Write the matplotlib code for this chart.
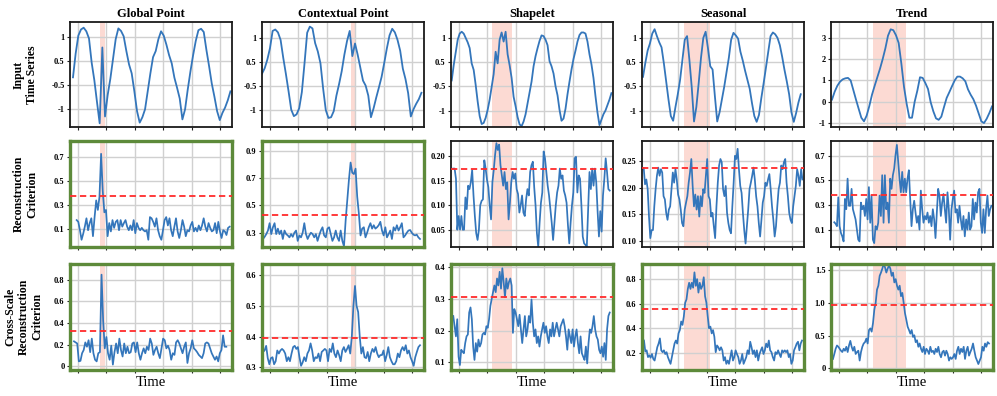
import numpy as np
import matplotlib
matplotlib.use("Agg")
import matplotlib.pyplot as plt

plt.rcParams['font.family'] = ['Liberation Serif', 'DejaVu Serif']

titles = ["Global Point", "Contextual Point", "Shapelet", "Seasonal", "Trend"]
row_labels = ["Input\nTime Series", "Reconstruction\nCriterion", "Cross-Scale\nReconstruction\nCriterion"]

# ---------------- input time series ----------------
in_global = [-0.11,0.55,1.05,1.22,1.27,1.17,0.97,0.30,-0.19,-0.80,-1.39,0.72,-1.20,-0.60,-0.15,0.40,0.95,1.25,1.18,1.03,
             0.62,0.25,0.0,-0.5,-1.05,-1.37,-1.22,-1.0,-0.5,0.0,0.45,0.62,0.95,1.17,1.05,0.8,0.51,0.28,-0.12,-0.4,
             -0.7,-1.28,-1.0,-0.45,0.05,0.5,0.9,1.2,1.24,1.15,0.65,0.2,-0.28,-0.65,-1.05,-1.3,-1.1,-0.95,-0.75,-0.5]
in_context = [0.01,0.16,0.40,0.72,1.20,1.24,1.16,0.95,0.45,0.0,-0.48,-0.99,-1.17,-1.12,-0.95,-0.5,0.3,1.15,1.32,1.27,
              0.86,0.63,0.3,-0.4,-1.0,-1.22,-1.2,-1.03,-0.6,-0.28,0.08,0.54,0.92,1.2,0.5,0.85,0.54,0.18,-0.18,-0.32,
              -0.6,-1.2,-0.95,-0.65,-0.37,-0.08,0.31,0.72,1.08,1.26,1.16,0.95,0.65,0.15,-0.14,-0.53,-1.18,-0.98,-0.83,-0.7,-0.52]
in_shapelet = [-0.17,0.25,0.6,0.95,1.12,1.17,1.12,1.0,0.88,0.72,0.3,0.12,-0.29,-0.75,-1.15,-1.37,-1.34,-1.2,-0.98,-0.7,
               -0.35,0.0,0.62,0.3,0.95,1.15,0.9,1.17,0.55,0.25,-0.1,-0.62,-0.88,-1.18,-1.38,-1.43,-1.3,-1.1,-0.8,-0.5,
               -0.2,0.22,0.5,0.72,0.92,1.07,1.05,0.95,0.8,0.36,0.22,0.02,-0.33,-0.58,-0.98,-1.28,-1.22,-0.95,-0.55,-0.2,
               0.13,0.42,0.65,0.9,1.08,1.15,1.15,1.12,0.9,0.55,0.27,-0.1,-0.6,-1.05,-1.4,-1.25,-1.1,-1.0,-0.85,-0.7,-0.52]
in_seasonal = [-0.07,0.31,0.65,0.85,1.12,1.24,1.05,0.88,0.74,0.3,-0.2,-0.7,-1.15,-1.28,-0.9,-0.55,-0.15,0.4,0.95,1.05,
               0.4,-0.35,-1.3,-0.9,-0.25,0.45,1.0,1.17,0.72,0.22,0.13,-0.61,-1.3,-1.05,-0.7,-0.35,0.05,0.45,0.95,1.14,
               1.07,0.98,0.62,0.38,0.1,-0.15,-0.4,-0.8,-1.15,-1.31,-1.12,-0.66,-0.25,0.18,0.62,1.05,1.15,1.1,1.0,0.8,
               0.48,0.12,-0.2,-0.55,-1.05,-1.31,-1.07,-0.78,-0.55]
in_trend = [0.10,0.47,0.75,0.94,1.05,1.1,1.12,1.0,0.55,0.1,-0.33,-0.75,-0.92,-0.65,-0.2,0.33,0.75,1.15,1.55,2.0,
            2.5,3.1,3.4,3.36,3.12,2.76,1.8,0.7,-0.1,-0.75,-0.75,0.0,0.52,1.15,1.12,0.88,0.6,-0.02,-0.45,-0.78,
            -0.85,-0.7,-0.25,0.18,0.45,0.73,1.0,1.18,1.18,1.1,0.96,0.58,0.33,0.12,-0.18,-0.55,-0.92,-1.0,-0.8,-0.53,-0.22]

# ---------------- reconstruction criterion ----------------
rc_global = [0.175,0.16,0.09,0.01,0.06,0.12,0.19,0.09,0.15,0.19,0.04,0.20,0.34,0.26,0.37,0.73,0.42,0.24,0.26,0.04,
             0.15,0.08,0.175,0.11,0.16,0.175,0.09,0.175,0.12,0.15,0.175,0.12,0.09,0.13,0.09,0.175,0.065,0.15,0.11,0.09,
             0.11,0.09,0.08,0.09,0.01,0.20,0.19,0.16,0.12,0.19,0.09,0.04,0.01,0.09,0.175,0.20,0.13,0.19,0.09,0.04,
             0.12,0.19,0.08,0.025,0.09,0.175,0.12,0.04,0.09,0.08,0.13,0.16,0.08,0.11,0.08,0.13,0.09,0.13,0.19,0.12,
             0.08,0.15,0.11,0.08,0.09,0.15,0.065,0.16,0.08,0.025,0.09,0.08,0.05,0.11,0.12]
rc_context = [0.254,0.27,0.29,0.316,0.37,0.29,0.34,0.37,0.29,0.33,0.29,0.316,0.254,0.316,0.29,0.28,0.266,0.29,0.27,0.30,
              0.316,0.24,0.28,0.266,0.30,0.37,0.29,0.254,0.28,0.30,0.29,0.266,0.29,0.24,0.28,0.316,0.34,0.28,0.266,0.33,
              0.34,0.29,0.24,0.266,0.316,0.266,0.24,0.316,0.24,0.20,0.39,0.54,0.69,0.815,0.74,0.73,0.77,0.565,0.44,0.28,
              0.33,0.34,0.266,0.30,0.34,0.37,0.33,0.355,0.33,0.34,0.355,0.38,0.316,0.28,0.34,0.266,0.29,0.316,0.254,0.34,
              0.316,0.355,0.316,0.34,0.37,0.266,0.28,0.30,0.316,0.32,0.30,0.286,0.28,0.286,0.266,0.254]
rc_shapelet = [0.175,0.175,0.154,0.05,0.078,0.05,0.078,0.05,0.05,0.116,0.092,0.14,0.133,0.147,0.172,0.12,0.078,0.043,0.029,0.05,
               0.10,0.109,0.112,0.192,0.175,0.152,0.137,0.10,0.071,0.147,0.172,0.203,0.227,0.213,0.224,0.182,0.161,0.14,0.168,0.133,
               0.147,0.071,0.105,0.147,0.168,0.154,0.165,0.133,0.123,0.085,0.10,0.12,0.085,0.078,0.112,0.133,0.12,0.168,0.182,0.189,
               0.137,0.10,0.043,0.015,0.064,0.105,0.126,0.21,0.196,0.168,0.14,0.12,0.092,0.064,0.029,0.064,0.10,0.126,0.14,0.175,
               0.154,0.161,0.13,0.12,0.105,0.06,0.022,0.064,0.10,0.126,0.196,0.199,0.126,0.161,0.154,0.10,0.036,0.022,0.019,0.015,
               0.092,0.168,0.133,0.175,0.14,0.175,0.147,0.088,0.036,0.088,0.046,0.12,0.154,0.196,0.168,0.133,0.13]
rc_seasonal = [0.236,0.206,0.215,0.197,0.146,0.106,0.121,0.121,0.165,0.197,0.222,0.237,0.222,0.234,0.228,0.184,0.178,0.153,0.14,0.159,
               0.165,0.197,0.228,0.209,0.234,0.215,0.187,0.178,0.159,0.134,0.128,0.159,0.172,0.184,0.209,0.228,0.253,0.203,0.165,0.187,
               0.159,0.184,0.146,0.184,0.165,0.197,0.19,0.222,0.253,0.184,0.178,0.146,0.153,0.128,0.106,0.165,0.209,0.241,0.253,0.247,
               0.197,0.184,0.203,0.153,0.134,0.121,0.115,0.165,0.209,0.259,0.253,0.272,0.234,0.203,0.19,0.153,0.121,0.096,0.128,0.159,
               0.197,0.209,0.222,0.237,0.215,0.184,0.165,0.134,0.109,0.14,0.172,0.184,0.209,0.203,0.215,0.225,0.197,0.165,0.14,0.109,
               0.128,0.165,0.197,0.209,0.241,0.234,0.247,0.253,0.209,0.184,0.153,0.14,0.134,0.165,0.184,0.203,0.234,0.222,0.203,0.234,0.215]
rc_trend = [0.16,0.148,0.128,0.363,0.128,0.073,0.045,0.004,0.35,0.266,0.515,0.294,0.294,0.432,0.266,0.225,0.183,0.10,0.018,0.004,
            0.32,0.266,0.294,0.211,0.35,0.183,0.446,0.156,0.377,0.018,-0.01,0.128,0.10,0.156,0.377,0.211,0.543,0.156,0.543,0.266,
            0.32,0.156,0.515,0.432,0.543,0.598,0.708,0.79,0.653,0.515,0.404,0.57,0.404,0.515,0.404,0.515,0.584,0.35,0.128,0.266,
            0.335,0.239,0.156,0.211,0.10,0.418,0.266,0.156,0.211,0.183,0.239,0.156,0.211,0.128,0.266,0.183,0.031,0.239,0.432,0.377,
            0.211,0.32,0.39,0.266,0.156,0.404,0.266,0.018,0.266,0.35,0.418,0.239,0.266,0.156,0.294,0.183,0.10,0.211,0.045,0.183,
            0.10,0.239,0.10,0.128,0.35,0.183,0.32,0.239,0.404,0.432,0.156,0.073,0.266,0.073,0.266,0.377,0.211,0.266,0.294]

# ---------------- cross-scale reconstruction criterion ----------------
cs_global = [0.23,0.22,0.21,0.045,0.05,0.12,0.15,0.22,0.18,0.24,0.13,0.255,0.12,0.06,0.045,0.12,0.13,0.845,0.42,0.165,
             0.27,0.12,0.06,0.19,0.015,0.13,0.21,0.12,0.255,0.15,0.09,0.21,0.12,0.18,0.12,0.13,0.21,0.22,0.13,0.22,
             0.12,0.06,0.12,0.165,0.12,0.18,0.15,0.255,0.21,0.105,0.15,0.18,0.12,0.075,0.165,0.255,0.24,0.165,0.19,0.15,
             0.06,0.12,0.105,0.22,0.24,0.21,0.165,0.12,0.18,0.22,0.03,0.12,0.165,0.24,0.165,0.15,0.13,0.105,0.09,0.075,
             0.12,0.21,0.22,0.21,0.165,0.12,0.09,0.06,0.09,0.045,0.12,0.15,0.285,0.18,0.18]
cs_context = [0.35,0.355,0.37,0.33,0.31,0.33,0.333,0.31,0.32,0.355,0.345,0.355,0.36,0.355,0.345,0.32,0.333,0.32,0.345,0.366,
              0.37,0.36,0.366,0.333,0.305,0.316,0.333,0.32,0.345,0.355,0.378,0.355,0.32,0.333,0.33,0.345,0.32,0.35,0.355,0.36,
              0.355,0.32,0.36,0.35,0.378,0.345,0.333,0.355,0.34,0.32,0.355,0.366,0.35,0.36,0.372,0.345,0.40,0.50,0.565,0.50,
              0.48,0.40,0.345,0.366,0.333,0.33,0.35,0.32,0.345,0.36,0.35,0.366,0.345,0.333,0.34,0.34,0.355,0.32,0.34,0.366,
              0.333,0.32,0.31,0.31,0.32,0.345,0.333,0.355,0.366,0.355,0.372,0.345,0.355,0.333,0.32,0.305,0.333,0.35,0.366,0.372]
cs_shapelet = [0.246,0.214,0.182,0.236,0.118,0.092,0.14,0.134,0.129,0.161,0.182,0.188,0.257,0.273,0.236,0.15,0.108,0.161,0.134,0.172,
               0.15,0.161,0.188,0.193,0.188,0.214,0.209,0.236,0.278,0.30,0.321,0.342,0.321,0.364,0.342,0.385,0.332,0.396,0.353,0.305,
               0.364,0.332,0.353,0.364,0.342,0.193,0.268,0.257,0.236,0.214,0.25,0.204,0.161,0.204,0.246,0.182,0.204,0.246,0.225,0.298,
               0.225,0.182,0.204,0.161,0.182,0.15,0.182,0.204,0.225,0.193,0.214,0.182,0.161,0.204,0.182,0.225,0.182,0.204,0.225,0.204,
               0.182,0.214,0.225,0.236,0.214,0.182,0.14,0.204,0.182,0.161,0.204,0.15,0.182,0.204,0.161,0.129,0.182,0.129,0.118,0.108,
               0.15,0.097,0.161,0.204,0.193,0.214,0.246,0.204,0.182,0.172,0.14,0.129,0.15,0.118,0.161,0.108,0.204,0.246,0.257]
cs_seasonal = [0.30,0.21,0.22,0.165,0.18,0.16,0.19,0.15,0.137,0.19,0.245,0.275,0.317,0.22,0.205,0.22,0.19,0.205,0.165,0.137,
               0.11,0.165,0.22,0.275,0.30,0.275,0.358,0.385,0.455,0.427,0.496,0.607,0.635,0.72,0.77,0.72,0.77,0.73,0.855,0.745,
               0.80,0.69,0.77,0.72,0.745,0.815,0.66,0.607,0.496,0.40,0.413,0.358,0.385,0.33,0.205,0.26,0.245,0.22,0.245,0.22,
               0.137,0.165,0.11,0.137,0.11,0.165,0.22,0.137,0.165,0.22,0.19,0.165,0.11,0.137,0.19,0.11,0.137,0.165,0.22,0.19,
               0.29,0.245,0.19,0.22,0.165,0.22,0.137,0.19,0.22,0.245,0.19,0.22,0.275,0.245,0.30,0.22,0.205,0.165,0.137,0.205,
               0.19,0.22,0.19,0.165,0.22,0.205,0.22,0.205,0.22,0.165,0.19,0.11,0.137,0.22,0.245,0.275,0.29,0.22,0.275,0.30]
cs_trend = [0.145,0.22,0.30,0.35,0.33,0.30,0.27,0.25,0.30,0.27,0.33,0.25,0.35,0.42,0.33,0.27,0.33,0.22,0.25,0.27,
            0.12,0.25,0.33,0.38,0.40,0.455,0.38,0.585,0.61,0.56,0.69,0.895,1.0,1.2,1.26,1.41,1.46,1.52,1.59,1.54,
            1.46,1.52,1.57,1.52,1.41,1.46,1.31,1.36,1.26,1.2,1.26,1.1,1.15,1.0,0.84,0.74,0.635,0.585,0.53,0.585,
            0.48,0.505,0.40,0.43,0.33,0.38,0.30,0.25,0.33,0.22,0.30,0.27,0.22,0.33,0.25,0.27,0.22,0.30,0.25,0.33,
            0.22,0.17,0.25,0.27,0.195,0.27,0.22,0.12,0.17,0.145,0.17,0.22,0.145,0.27,0.33,0.22,0.30,0.25,0.33,0.145,
            0.27,0.33,0.195,0.25,0.30,0.38,0.27,0.17,0.12,0.067,0.12,0.17,0.33,0.27,0.38,0.33,0.40,0.38]

# thresholds (red dashed lines)
rc_thresholds = [0.378, 0.428, 0.174, 0.236, 0.383]
cs_thresholds = [0.329, 0.395, 0.306, 0.553, 0.972]

# anomaly intervals (time units)
anomaly_spans = [(15.6, 19.1), (56.9, 60.4), (23.1, 37.6), (24.0, 42.6), (24.2, 47.6)]

# time range covered by each series (time units)
in_tspan = [(-3.4, 107.4), (-5.5, 106.7), (-5.0, 107.4), (-4.8, 106.2), (-4.8, 107.8)]
rc_tspan = [(-0.8, 106.9), (-4.8, 105.7), (-3.9, 106.2), (-4.3, 107.4), (-3.2, 107.4)]
cs_tspan = [(-2.7, 104.5), (-4.8, 105.7), (-3.9, 106.2), (-4.1, 107.1), (-4.1, 105.7)]

time_ticks = [0, 20, 40, 60, 80, 100]

in_yticks = [[-1, -1/3, 1/3, 1]] * 4 + [[-1, 0, 1, 2, 3]]
in_ylabels = [["-1", "-0.5", "0.5", "1"]] * 4 + [["-1", "0", "1", "2", "3"]]
in_ylims = [(-1.5, 1.42), (-1.48, 1.44), (-1.46, 1.43), (-1.46, 1.43), (-1.2, 3.73)]

rc_yticks = [[0.1, 0.3, 0.5, 0.7], [0.3, 0.5, 0.7, 0.9], [0.05, 0.10, 0.15, 0.20],
             [0.10, 0.15, 0.20, 0.25], [0.1, 0.3, 0.5, 0.7]]
rc_ylabels = [["0.1", "0.3", "0.5", "0.7"], ["0.3", "0.5", "0.7", "0.9"], ["0.05", "0.10", "0.15", "0.20"],
              ["0.10", "0.15", "0.20", "0.25"], ["0.1", "0.3", "0.5", "0.7"]]
rc_ylims = [(-0.053, 0.84), (0.193, 0.975), (0.014, 0.232), (0.089, 0.287), (-0.044, 0.824)]

cs_yticks = [[0, 0.2, 0.4, 0.6, 0.8], [0.3, 0.4, 0.5, 0.6], [0.1, 0.2, 0.3, 0.4],
             [0.2, 0.4, 0.6, 0.8], [0, 0.5, 1.0, 1.5]]
cs_ylabels = [["0", "0.2", "0.4", "0.6", "0.8"], ["0.3", "0.4", "0.5", "0.6"], ["0.1", "0.2", "0.3", "0.4"],
              ["0.2", "0.4", "0.6", "0.8"], ["0", "0.5", "1.0", "1.5"]]
cs_ylims = [(-0.03, 0.948), (0.293, 0.638), (0.078, 0.411), (0.064, 0.927), (-0.016, 1.598)]

rc_green = [True, True, False, False, False]
cs_green = [True] * 5

inputs = [in_global, in_context, in_shapelet, in_seasonal, in_trend]
recs = [rc_global, rc_context, rc_shapelet, rc_seasonal, rc_trend]
crosses = [cs_global, cs_context, cs_shapelet, cs_seasonal, cs_trend]

# ---------------- layout ----------------
W, H = 997, 396
fig = plt.figure(figsize=(W / 100, H / 100), dpi=100)
col_left = [70, 262, 451, 642, 831]
ax_w = 162
row_top = [22.3, 140.7, 263.5]
row_h = [105, 106.6, 106]

LINE = '#3476bb'
SHADE = '#fcdad3'
GREEN = '#5d8a3a'
RED = '#ff2b2b'


def make_ax(r, c):
    l = col_left[c] / W
    b = 1 - (row_top[r] + row_h[r]) / H
    return fig.add_axes([l, b, ax_w / W, row_h[r] / H])


def style(ax, ylim, yticks, ylabels, green):
    ax.set_xlim(-5.5, 108.5)
    ax.set_xticks(time_ticks)
    ax.set_xticklabels([])
    ax.set_ylim(*ylim)
    ax.set_yticks(yticks)
    ax.set_yticklabels(ylabels, fontweight='bold')
    ax.grid(True, color='#d0d0d0', lw=1.0)
    ax.set_axisbelow(True)
    ax.tick_params(axis='both', length=2.5, width=0.8, pad=1.5, labelsize=6, color='#222222')
    for s in ax.spines.values():
        if green:
            s.set_color(GREEN)
            s.set_linewidth(2.4)
        else:
            s.set_color('#1a1a1a')
            s.set_linewidth(1.3)


for c in range(5):
    # row 1
    ax = make_ax(0, c)
    a0, a1 = anomaly_spans[c]
    ax.axvspan(a0, a1, color=SHADE, lw=0, zorder=0.5)
    y = inputs[c]
    t = np.linspace(in_tspan[c][0], in_tspan[c][1], len(y))
    ax.plot(t, y, color=LINE, lw=1.3, zorder=2)
    style(ax, in_ylims[c], in_yticks[c], in_ylabels[c], False)
    ax.set_title(titles[c], fontsize=9, fontweight='bold', pad=3.5)

    # row 2
    ax = make_ax(1, c)
    ax.axvspan(a0, a1, color=SHADE, lw=0, zorder=0.5)
    y = recs[c]
    t = np.linspace(rc_tspan[c][0], rc_tspan[c][1], len(y))
    ax.plot(t, y, color=LINE, lw=1.25, zorder=2)
    ax.axhline(rc_thresholds[c], color=RED, lw=1.3, dashes=(3.5, 2), zorder=3)
    style(ax, rc_ylims[c], rc_yticks[c], rc_ylabels[c], rc_green[c])

    # row 3
    ax = make_ax(2, c)
    ax.axvspan(a0, a1, color=SHADE, lw=0, zorder=0.5)
    y = crosses[c]
    t = np.linspace(cs_tspan[c][0], cs_tspan[c][1], len(y))
    ax.plot(t, y, color=LINE, lw=1.25, zorder=2)
    ax.axhline(cs_thresholds[c], color=RED, lw=1.3, dashes=(3.5, 2), zorder=3)
    style(ax, cs_ylims[c], cs_yticks[c], cs_ylabels[c], cs_green[c])
    ax.set_xlabel("Time", fontsize=10.5, labelpad=1)

row_x = [25, 26, 24]
for r in range(3):
    yc = 1 - (row_top[r] + row_h[r] / 2) / H
    fig.text(row_x[r] / W, yc, row_labels[r], rotation=90, ha='center', va='center',
             multialignment='center', fontsize=8.5, fontweight='bold', linespacing=1.15)

fig.savefig("out.png", dpi=100)
